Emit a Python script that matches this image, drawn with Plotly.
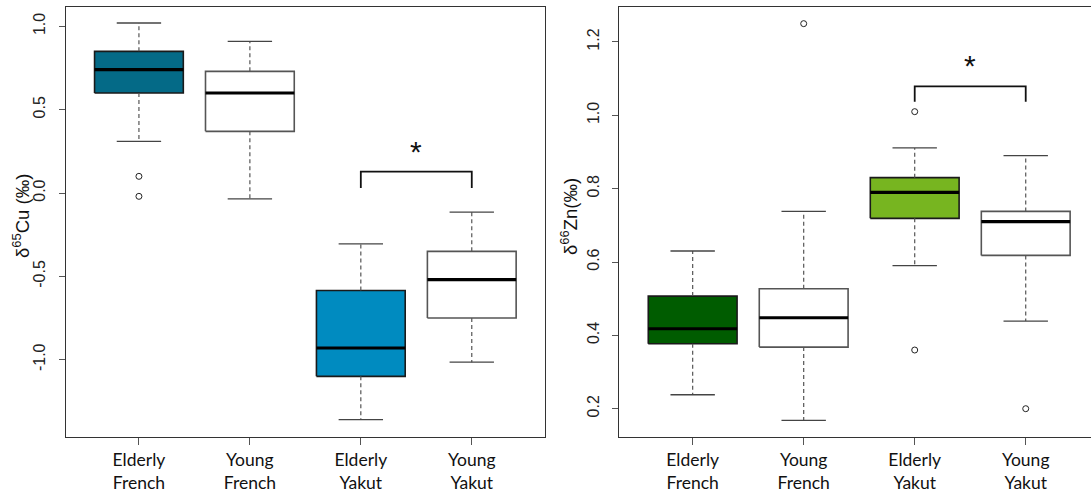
import plotly.graph_objects as go

# ---------------- data ----------------
categories = ["Elderly<br>French", "Young<br>French", "Elderly<br>Yakut", "Young<br>Yakut"]

# δ65Cu panel
cu_q1 = [0.60, 0.37, -1.10, -0.75]
cu_median = [0.74, 0.60, -0.93, -0.52]
cu_q3 = [0.85, 0.73, -0.585, -0.35]
cu_lower = [0.31, -0.035, -1.36, -1.015]
cu_upper = [1.02, 0.91, -0.305, -0.115]
cu_outliers = [[0.10, -0.02], [], [], []]
cu_fill = ["#046a87", "#ffffff", "#008bc0", "#ffffff"]
cu_bracket = [0.128, 0.03]   # bar, leg end
cu_star = 0.25
cu_ticks = [-1.0, -0.5, 0.0, 0.5, 1.0]
cu_ticktext = ["-1.0", "-0.5", "0.0", "0.5", "1.0"]

# δ66Zn panel
zn_q1 = [0.377, 0.368, 0.719, 0.618]
zn_median = [0.418, 0.448, 0.790, 0.710]
zn_q3 = [0.507, 0.527, 0.830, 0.738]
zn_lower = [0.238, 0.168, 0.590, 0.439]
zn_upper = [0.630, 0.738, 0.911, 0.890]
zn_outliers = [[], [1.25], [1.01, 0.36], [0.20]]
zn_fill = ["#005c00", "#ffffff", "#77b520", "#ffffff"]
zn_bracket = [1.079, 1.037]
zn_star = 1.137
zn_ticks = [0.2, 0.4, 0.6, 0.8, 1.0, 1.2]
zn_ticktext = ["0.2", "0.4", "0.6", "0.8", "1.0", "1.2"]

# ---------------- styling constants ----------------
HALF = 0.4      # half box width
CAP = 0.2       # half staple width
W, H = 1091, 494

fig = go.Figure()


def add_panel(xa, ya, q1, med, q3, lo, hi, outl, fills, bracket):
    positions = list(range(1, len(categories) + 1))
    wx, wy, cx, cy, mx, my, ox, oy = [], [], [], [], [], [], [], []
    for p, a, m, b, l, h, o, f in zip(positions, q1, med, q3, lo, hi, outl, fills):
        edge = "#555555" if f == "#ffffff" else "#1a1a1a"
        fig.add_trace(go.Scatter(
            x=[p - HALF, p + HALF, p + HALF, p - HALF, p - HALF],
            y=[a, a, b, b, a], mode="lines", fill="toself", fillcolor=f,
            line=dict(color=edge, width=1.6), xaxis=xa, yaxis=ya,
            hoverinfo="skip", showlegend=False))
        wx += [p, p, None, p, p, None]
        wy += [b, h, None, a, l, None]
        cx += [p - CAP, p + CAP, None, p - CAP, p + CAP, None]
        cy += [h, h, None, l, l, None]
        mx += [p - HALF, p + HALF, None]
        my += [m, m, None]
        for v in o:
            ox.append(p)
            oy.append(v)
    fig.add_trace(go.Scatter(x=wx, y=wy, mode="lines", line=dict(color="#555555", width=1.2, dash="4px,3px"),
                             xaxis=xa, yaxis=ya, hoverinfo="skip", showlegend=False))
    fig.add_trace(go.Scatter(x=cx, y=cy, mode="lines", line=dict(color="#444444", width=1.3),
                             xaxis=xa, yaxis=ya, hoverinfo="skip", showlegend=False))
    fig.add_trace(go.Scatter(x=mx, y=my, mode="lines", line=dict(color="#000000", width=3.2),
                             xaxis=xa, yaxis=ya, hoverinfo="skip", showlegend=False))
    fig.add_trace(go.Scatter(x=ox, y=oy, mode="markers",
                             marker=dict(symbol="circle-open", size=6, color="#222222", line=dict(width=1)),
                             xaxis=xa, yaxis=ya, hoverinfo="skip", showlegend=False))
    # significance bracket between Elderly Yakut (3) and Young Yakut (4)
    fig.add_trace(go.Scatter(x=[3, 3, 4, 4], y=[bracket[1], bracket[0], bracket[0], bracket[1]],
                             mode="lines", line=dict(color="#111111", width=1.8),
                             xaxis=xa, yaxis=ya, hoverinfo="skip", showlegend=False))


add_panel("x", "y", cu_q1, cu_median, cu_q3, cu_lower, cu_upper, cu_outliers, cu_fill, cu_bracket)
add_panel("x2", "y2", zn_q1, zn_median, zn_q3, zn_lower, zn_upper, zn_outliers, zn_fill, zn_bracket)

ydom = [1 - 437 / H, 1 - 7 / H]
xcommon = dict(tickmode="array", tickvals=[1, 2, 3, 4], ticktext=categories,
               showgrid=False, zeroline=False, showline=True, linecolor="#333333", linewidth=1,
               ticks="outside", ticklen=7, tickcolor="#555555",
               tickfont=dict(family="Lato", size=17.5, color="#111111"))
ycommon = dict(showgrid=False, zeroline=False, showline=True, linecolor="#333333", linewidth=1,
               ticks="outside", ticklen=6, tickcolor="#555555", tickangle=-90,
               tickfont=dict(family="Liberation Sans", size=16, color="#222222"),
               ticklabelstandoff=7)

fig.update_layout(
    width=W, height=H, margin=dict(l=0, r=0, t=0, b=0),
    paper_bgcolor="white", plot_bgcolor="white", showlegend=False,
    xaxis=dict(domain=[65.7 / W, 545 / W], range=[0.34, 4.66], mirror=True, anchor="y", **xcommon),
    yaxis=dict(domain=ydom, range=[-1.464, 1.116], mirror=True, anchor="x",
               tickmode="array", tickvals=cu_ticks, ticktext=cu_ticktext, **ycommon),
    xaxis2=dict(domain=[619.4 / W, 1.0], range=[0.34, 4.588], mirror=True, anchor="y2", **xcommon),
    yaxis2=dict(domain=ydom, range=[0.1228, 1.2954], mirror=False, anchor="x2",
                tickmode="array", tickvals=zn_ticks, ticktext=zn_ticktext, **ycommon),
    annotations=[
        dict(text="*", x=3.5, y=cu_star, xref="x", yref="y", showarrow=False,
             font=dict(family="Liberation Sans", size=30, color="#111111")),
        dict(text="*", x=3.5, y=zn_star, xref="x2", yref="y2", showarrow=False,
             font=dict(family="Liberation Sans", size=30, color="#111111")),
        dict(text="δ<sup>65</sup>Cu (‰)", x=21 / W, y=1 - 216 / H, xref="paper", yref="paper",
             xanchor="center", yanchor="middle",
             textangle=-90, showarrow=False, font=dict(family="Liberation Sans", size=18.5, color="#111111")),
        dict(text="δ<sup>66</sup>Zn(‰)", x=569 / W, y=1 - 217 / H, xref="paper", yref="paper",
             xanchor="center", yanchor="middle",
             textangle=-90, showarrow=False, font=dict(family="Liberation Sans", size=18.5, color="#111111")),
    ],
)

fig.write_html("out.html", config={"displayModeBar": False},
               post_script="document.body.style.margin='0';")
